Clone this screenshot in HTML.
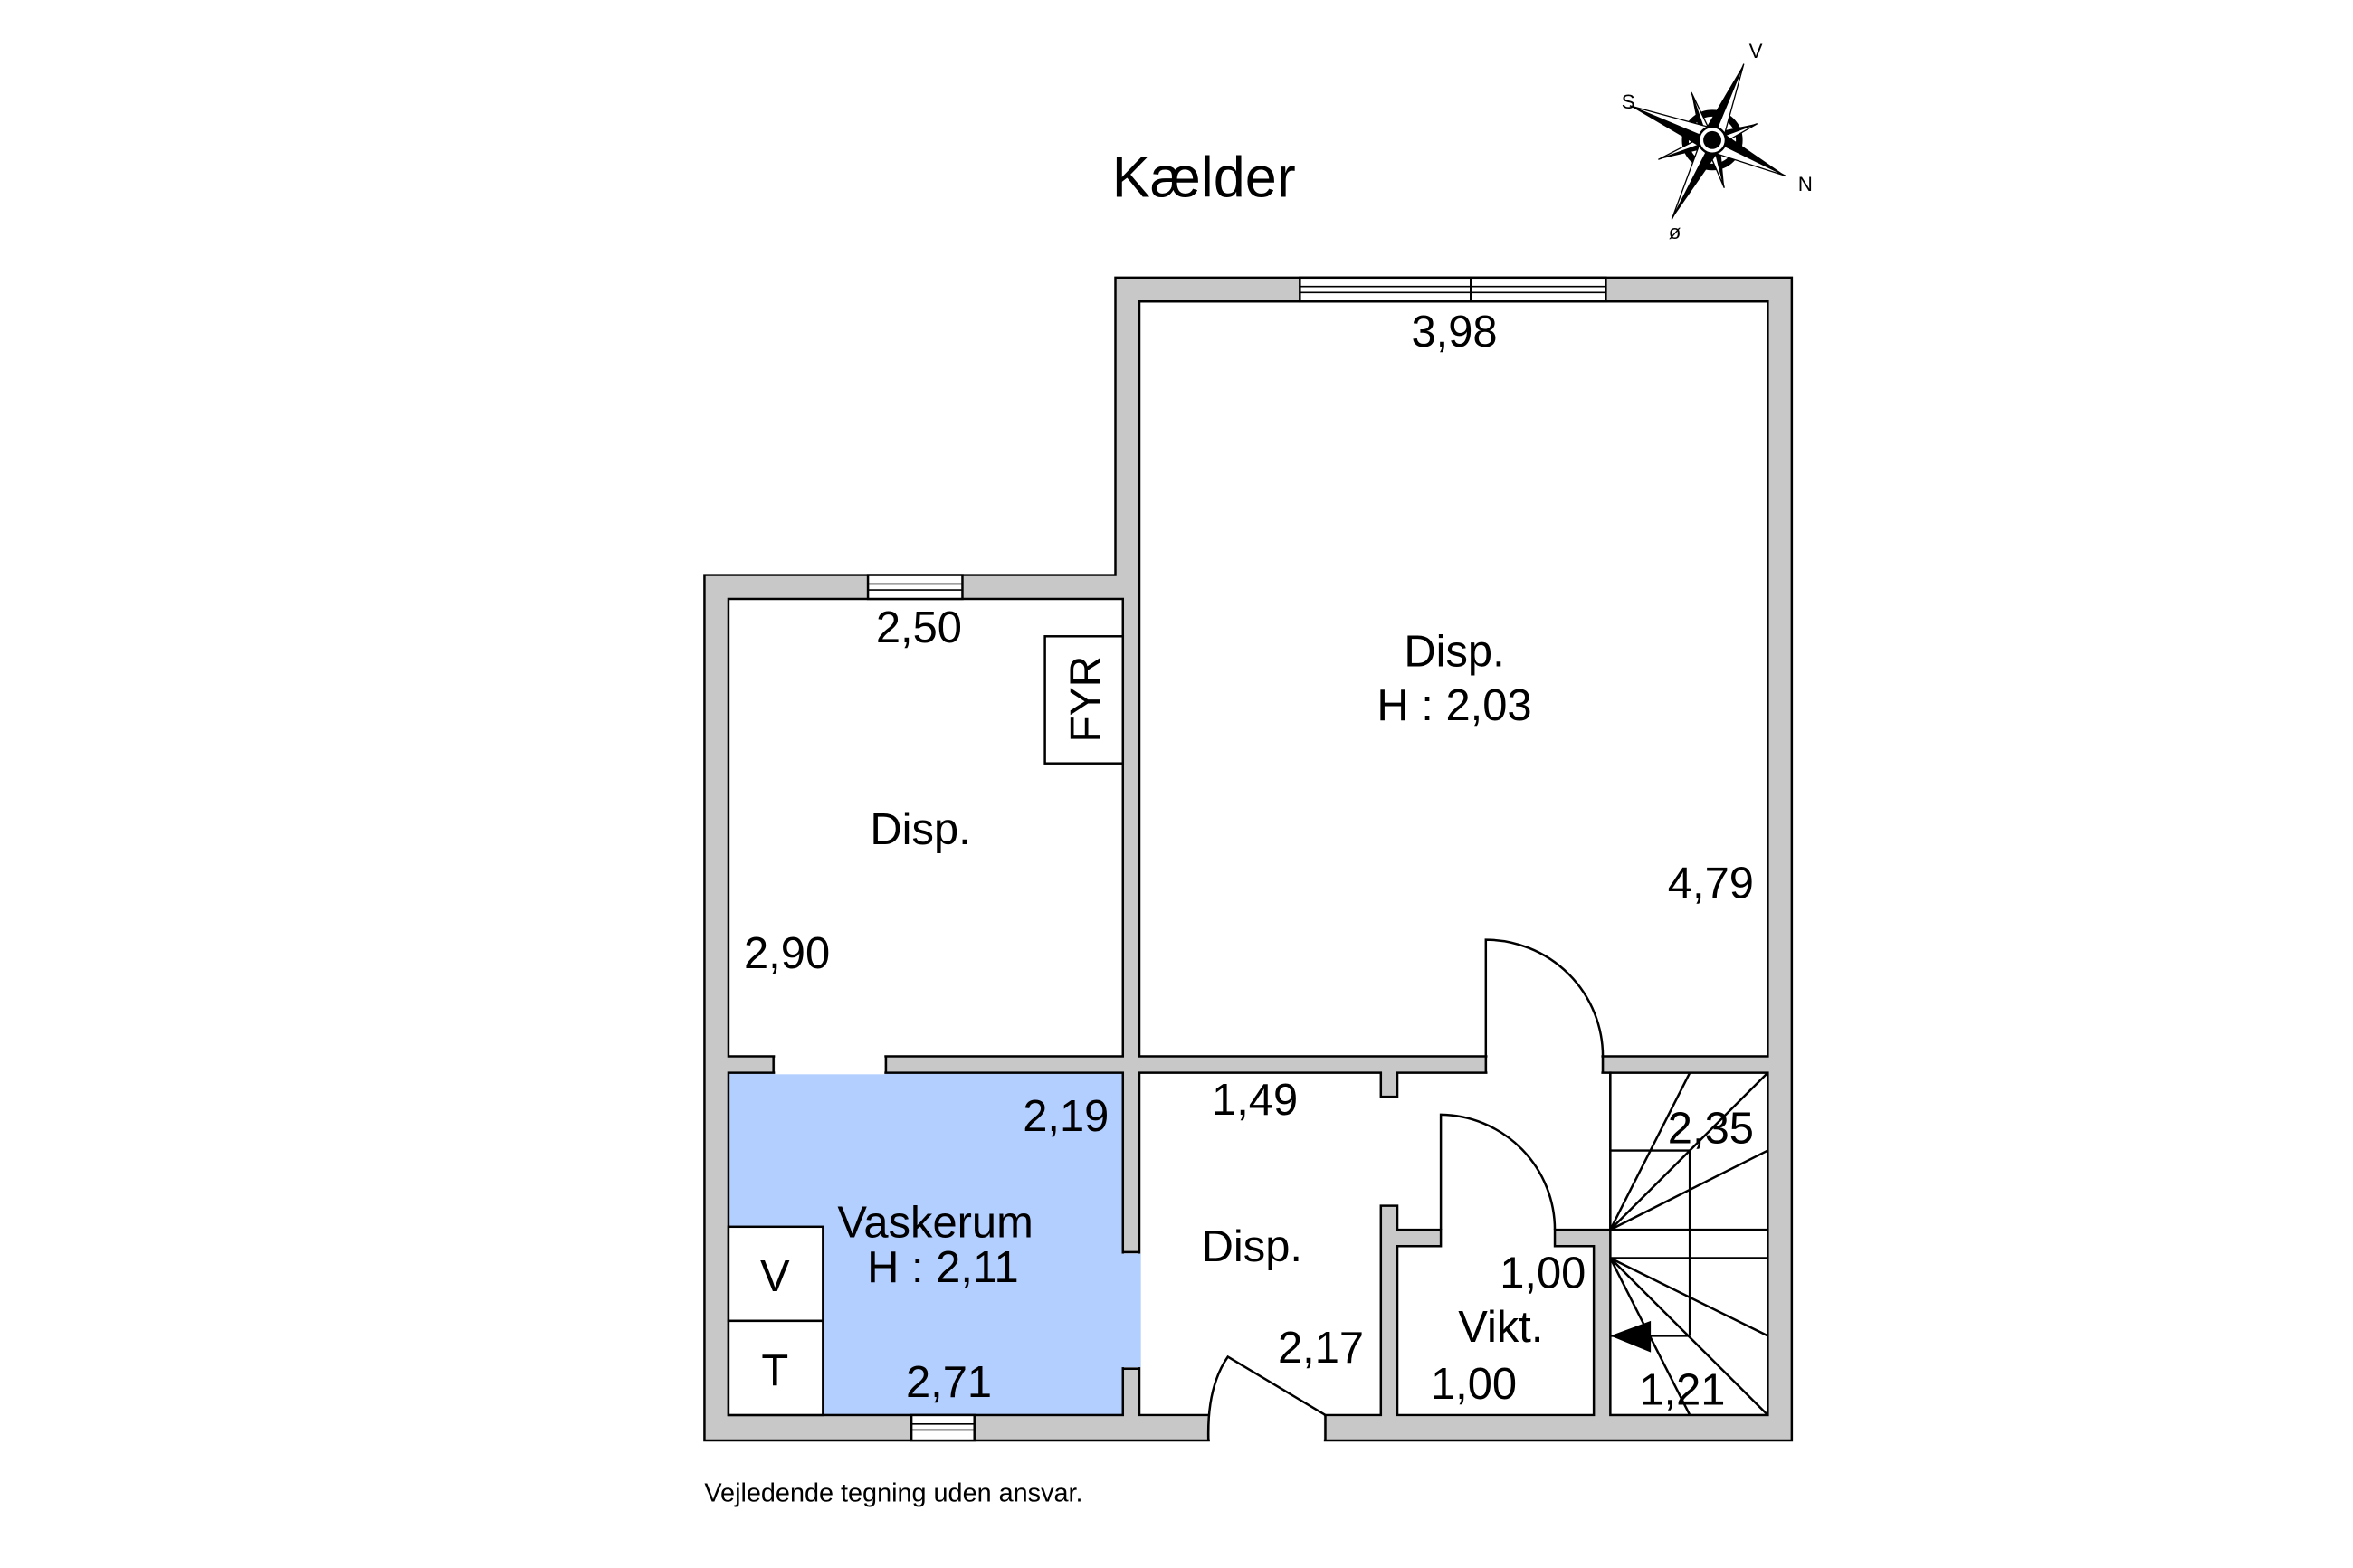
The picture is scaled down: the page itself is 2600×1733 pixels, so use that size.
<!DOCTYPE html>
<html><head><meta charset="utf-8"><style>
html,body{margin:0;padding:0;background:#fff;}
svg{display:block;}
text{font-family:"Liberation Sans",Arial,sans-serif;fill:#000;}
</style></head><body>
<svg width="2600" height="1733" viewBox="0 0 1560 1040" xmlns="http://www.w3.org/2000/svg">
<rect x="0" y="0" width="1560" height="1040" fill="#fff"/>
<g transform="matrix(0.99448 0 0 0.99136 0.589 0.722)">
<!-- outer walls -->
<polygon points="469,384 743,384 743,185 1194,185 1194,963 469,963" fill="#c8c8c8" stroke="#000" stroke-width="1.5"/>
<!-- rooms -->
<rect x="759" y="201" width="419" height="505" fill="#fff" stroke="#000" stroke-width="1.5"/>
<rect x="485" y="400" width="263" height="306" fill="#fff" stroke="#000" stroke-width="1.5"/>
<rect x="485" y="717" width="263" height="229" fill="#b3cfff" stroke="#000" stroke-width="1.5"/>
<polygon points="759,717 920,717 920,733 931,733 931,717 1073,717 1073,822 1036,822 1036,833 1062,833 1062,946 931,946 931,833 960,833 960,822 931,822 931,806 920,806 920,946 759,946" fill="#fff" stroke="#000" stroke-width="1.5"/>
<rect x="1073" y="717" width="105" height="229" fill="#fff" stroke="#000" stroke-width="1.5"/>
<!-- openings -->
<rect x="516" y="705" width="73" height="13" fill="#fff"/>
<line x1="515" y1="706" x2="515" y2="717" stroke="#000" stroke-width="1.5"/>
<line x1="590" y1="706" x2="590" y2="717" stroke="#000" stroke-width="1.5"/>
<rect x="747" y="838" width="13" height="76" fill="#b3cfff"/>
<line x1="748" y1="837" x2="759" y2="837" stroke="#000" stroke-width="1.5"/>
<line x1="748" y1="915" x2="759" y2="915" stroke="#000" stroke-width="1.5"/>
<rect x="991" y="705" width="76" height="13" fill="#fff"/>
<line x1="990" y1="706" x2="990" y2="717" stroke="#000" stroke-width="1.5"/>
<line x1="1068" y1="706" x2="1068" y2="717" stroke="#000" stroke-width="1.5"/>
<rect x="806" y="945" width="76" height="19" fill="#fff"/>
<line x1="883" y1="946" x2="883" y2="963" stroke="#000" stroke-width="1.5"/>
<!-- doors -->
<path d="M990,706 L990,628 A78,78 0 0 1 1068,706" fill="none" stroke="#000" stroke-width="1.5"/>
<path d="M960,822 L960,745 A77,77 0 0 1 1036,822" fill="none" stroke="#000" stroke-width="1.5"/>
<path d="M805,963 Q804,927 818,907 L883,946" fill="none" stroke="#000" stroke-width="1.5"/>
<!-- windows -->
<rect x="866" y="185" width="204" height="16" fill="#fff" stroke="#000" stroke-width="1.5"/>
<line x1="866" y1="191" x2="1070" y2="191" stroke="#000" stroke-width="1"/>
<line x1="866" y1="195" x2="1070" y2="195" stroke="#000" stroke-width="1"/>
<line x1="980" y1="185" x2="980" y2="201" stroke="#000" stroke-width="1.5"/>
<rect x="578" y="384" width="63" height="16" fill="#fff" stroke="#000" stroke-width="1.5"/>
<line x1="578" y1="390" x2="641" y2="390" stroke="#000" stroke-width="1"/>
<line x1="578" y1="394" x2="641" y2="394" stroke="#000" stroke-width="1"/>
<rect x="607" y="946" width="42" height="17" fill="#fff" stroke="#000" stroke-width="1.5"/>
<line x1="607" y1="952" x2="649" y2="952" stroke="#000" stroke-width="1"/>
<line x1="607" y1="956" x2="649" y2="956" stroke="#000" stroke-width="1"/>
<!-- FYR and V/T -->
<rect x="696" y="425" width="52" height="85" fill="#fff" stroke="#000" stroke-width="1.5"/>
<text x="0" y="0" font-size="29" text-anchor="middle" transform="translate(733,467) rotate(-90)">FYR</text>
<rect x="485" y="820" width="63" height="63" fill="#fff" stroke="#000" stroke-width="1.5"/>
<rect x="485" y="883" width="63" height="63" fill="#fff" stroke="#000" stroke-width="1.5"/>
<!-- stairs -->
<g stroke="#000" stroke-width="1.5" fill="none">
<line x1="1073" y1="769" x2="1126" y2="769"/>
<line x1="1126" y1="769" x2="1126" y2="893"/>
<line x1="1073" y1="822" x2="1178" y2="822"/>
<line x1="1073" y1="841" x2="1178" y2="841"/>
<line x1="1073" y1="893" x2="1126" y2="893"/>
<line x1="1073" y1="822" x2="1126" y2="717"/>
<line x1="1073" y1="822" x2="1178" y2="717"/>
<line x1="1073" y1="822" x2="1178" y2="769"/>
<line x1="1073" y1="841" x2="1178" y2="893"/>
<line x1="1073" y1="841" x2="1178" y2="946"/>
<line x1="1073" y1="841" x2="1126" y2="946"/>
</g>
<polygon points="1073,893 1100,883 1100,904" fill="#000"/>
<!-- compass -->
<g>
<circle cx="1141" cy="93" r="18" fill="none" stroke="#000" stroke-width="4.5"/>
<polygon points="1127,61 1138,93 1133,92" fill="#000"/><polygon points="1127,61 1138,93 1140,88" fill="#fff" stroke="#000" stroke-width="0.8"/>
<polygon points="1171,82 1141,93 1142,88" fill="#000"/><polygon points="1171,82 1141,93 1145,97" fill="#fff" stroke="#000" stroke-width="0.8"/>
<polygon points="1149,125 1141,93 1146,94" fill="#000"/><polygon points="1149,125 1141,93 1137,97" fill="#fff" stroke="#000" stroke-width="0.8"/>
<polygon points="1105,106 1141,93 1139,98" fill="#000"/><polygon points="1105,106 1141,93 1136,90" fill="#fff" stroke="#000" stroke-width="0.8"/>
<polygon points="1162,42 1141,93 1135,88" fill="#000"/><polygon points="1162,42 1141,93 1147,97" fill="#fff" stroke="#000" stroke-width="0.8"/>
<polygon points="1190,117 1141,93 1145,86" fill="#000"/><polygon points="1190,117 1141,93 1137,100" fill="#fff" stroke="#000" stroke-width="0.8"/>
<polygon points="1114,146 1141,93 1147,98" fill="#000"/><polygon points="1114,146 1141,93 1135,89" fill="#fff" stroke="#000" stroke-width="0.8"/>
<polygon points="1086,70 1141,93 1137,100" fill="#000"/><polygon points="1086,70 1141,93 1145,86" fill="#fff" stroke="#000" stroke-width="0.8"/>
<circle cx="1141" cy="93" r="9" fill="#fff" stroke="#000" stroke-width="1.5"/>
<circle cx="1141" cy="93" r="6" fill="#000"/>
<text x="1170" y="38" font-size="13.5" text-anchor="middle">V</text>
<text x="1085" y="72" font-size="13.5" text-anchor="middle">S</text>
<text x="1203" y="127" font-size="13.5" text-anchor="middle">N</text>
<text x="1116" y="159" font-size="13.5" text-anchor="middle">ø</text>
</g>
<!-- labels -->
<g font-size="29.5" text-anchor="middle">
<text x="802" y="131" font-size="38">Kælder</text>
<text x="969" y="231">3,98</text>
<text x="612" y="429">2,50</text>
<text x="613" y="564">Disp.</text>
<text x="524" y="647">2,90</text>
<text x="969" y="445">Disp.</text>
<text x="969" y="481">H : 2,03</text>
<text x="1140" y="600">4,79</text>
<text x="710" y="756">2,19</text>
<text x="836" y="745">1,49</text>
<text x="1140" y="764">2,35</text>
<text x="623" y="827">Vaskerum</text>
<text x="628" y="857">H : 2,11</text>
<text x="516" y="863">V</text>
<text x="516" y="926">T</text>
<text x="834" y="843">Disp.</text>
<text x="1028" y="861">1,00</text>
<text x="1000" y="897">Vikt.</text>
<text x="880" y="911">2,17</text>
<text x="632" y="934">2,71</text>
<text x="982" y="935">1,00</text>
<text x="1121" y="939">1,21</text>
</g>
<text x="469" y="1004" font-size="17.4">Vejledende tegning uden ansvar.</text>
</g>
</svg>
</body></html>
